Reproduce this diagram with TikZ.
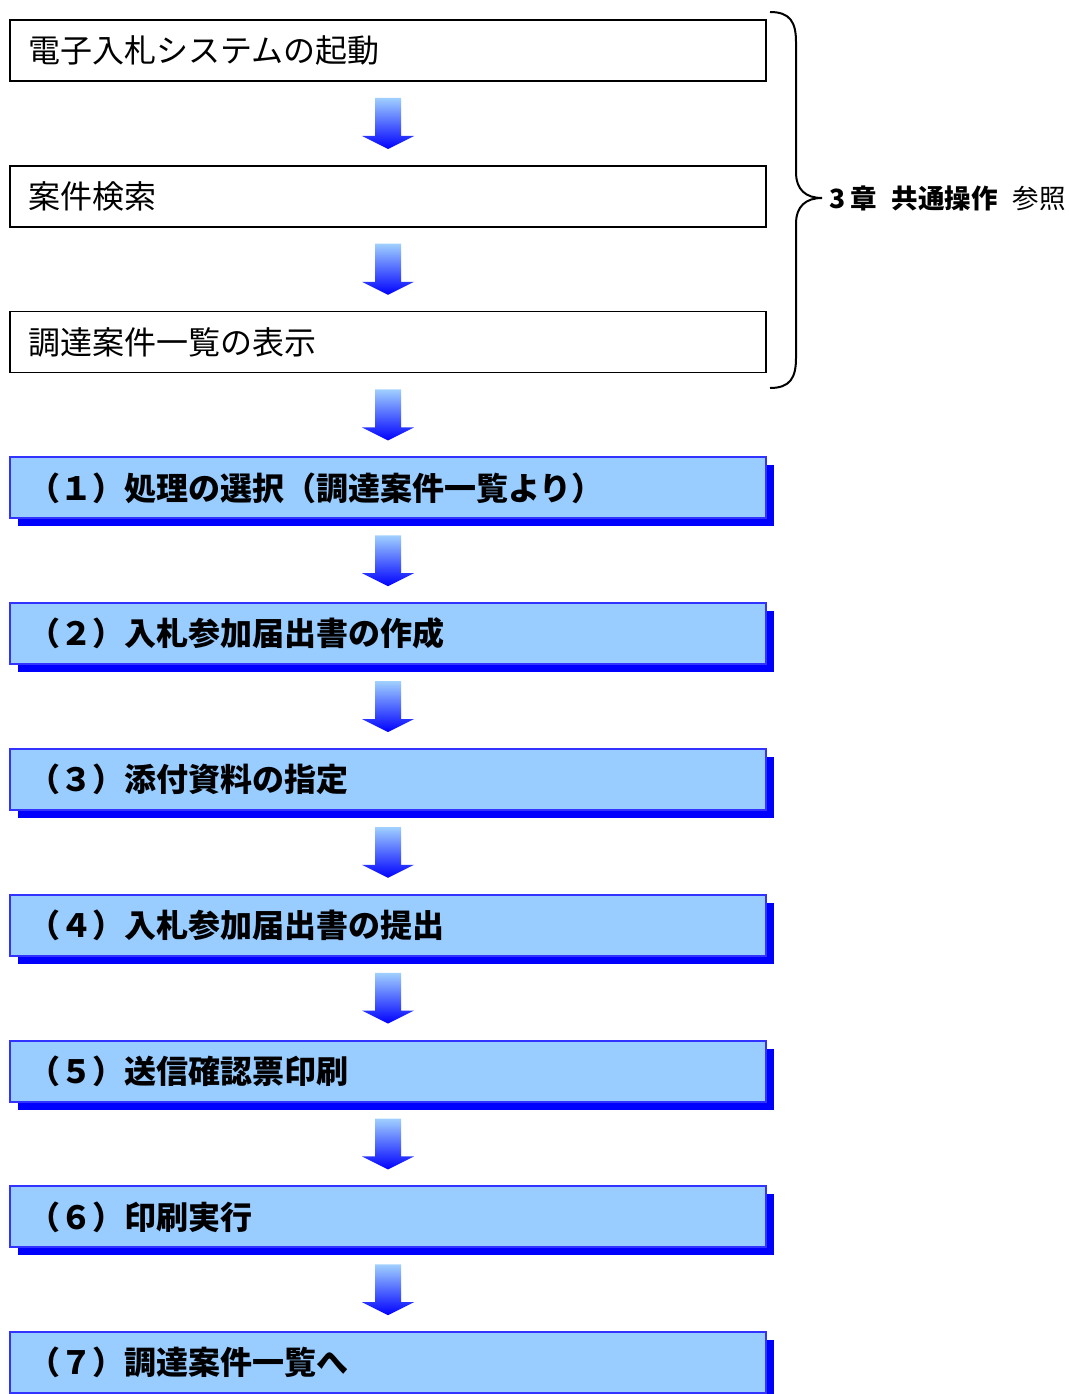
\documentclass[tikz,border=0pt]{standalone}
\usepackage{fontspec}
\setmainfont{Noto Sans CJK JP}
\usetikzlibrary{calc,shadows}
\definecolor{boxfill}{HTML}{99CCFF}
\definecolor{boxline}{HTML}{3333FF}
\definecolor{shadowblue}{HTML}{0000FF}
\definecolor{arrowtop}{HTML}{A0D0FF}
\newcommand\flowarrow[2]{\shade[flow] ($(#1.south)+(-13,16)$) -- ($(#1.south)+(13,16)$) -- ($(#2.north)+(13,-29)$) -- ($(#2.north)+(26,-29)$) -- ($(#2.north)+(0,-16)$) -- ($(#2.north)+(-26,-29)$) -- ($(#2.north)+(-13,-29)$) -- cycle;}
\begin{document}
\begin{tikzpicture}[x=1pt,y=-1pt,
 plainbox/.style={draw=black,line width=1.6pt,fill=white,minimum height=61pt,text width=720pt,inner xsep=18pt,inner ysep=0pt,align=left,font=\fontsize{32}{36}\selectfont},
 stepbox/.style={draw=boxline,line width=2pt,fill=boxfill,minimum height=61pt,text width=720pt,inner xsep=18pt,inner ysep=0pt,align=left,font=\fontsize{32}{36}\selectfont\bfseries,drop shadow={shadow xshift=8pt,shadow yshift=-8pt,fill=shadowblue,opacity=1}},
 flow/.style={top color=arrowtop,bottom color=shadowblue,draw=none}]
\useasboundingbox (0,0) rectangle (1068,1394);
\node[plainbox] (b1) at (388,50.5) {電子入札システムの起動};
\node[plainbox] (b2) at (388,196.3) {案件検索};
\node[plainbox] (b3) at (388,342.1) {調達案件一覧の表示};
\node[stepbox] (s1) at (388,487.9) {（１）処理の選択（調達案件一覧より）};
\node[stepbox] (s2) at (388,633.7) {（２）入札参加届出書の作成};
\node[stepbox] (s3) at (388,779.5) {（３）添付資料の指定};
\node[stepbox] (s4) at (388,925.3) {（４）入札参加届出書の提出};
\node[stepbox] (s5) at (388,1071.1) {（５）送信確認票印刷};
\node[stepbox] (s6) at (388,1216.9) {（６）印刷実行};
\node[stepbox] (s7) at (388,1362.7) {（７）調達案件一覧へ};
\flowarrow{b1}{b2}
\flowarrow{b2}{b3}
\flowarrow{b3}{s1}
\flowarrow{s1}{s2}
\flowarrow{s2}{s3}
\flowarrow{s3}{s4}
\flowarrow{s4}{s5}
\flowarrow{s5}{s6}
\flowarrow{s6}{s7}
\draw[line width=2pt] (770,12) .. controls (790,12) and (796,22) .. (796,42) -- (796,172) .. controls (796,190) and (806,198) .. (822,198) .. controls (806,198) and (796,206) .. (796,224) -- (796,358) .. controls (796,378) and (790,388) .. (770,388);
\node[anchor=west,inner sep=0pt,font=\fontsize{26.5}{30}\selectfont] (ref) at (829,198) {\textbf{3\hspace{5pt}章\hspace{15pt}共通操作}\hspace{15pt}参照};
\end{tikzpicture}
\end{document}
